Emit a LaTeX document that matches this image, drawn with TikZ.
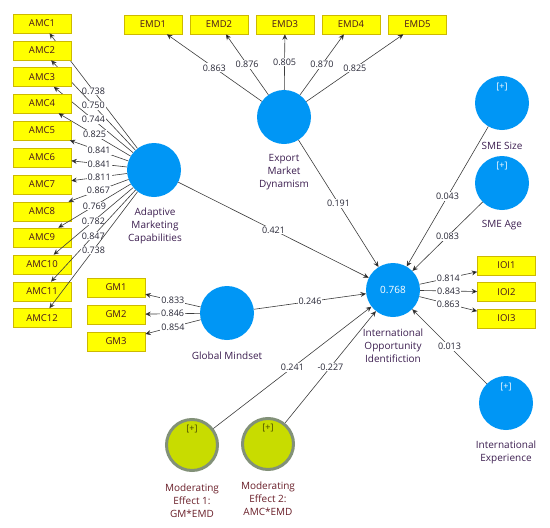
\documentclass[tikz,border=0pt]{standalone}
\usepackage{fontspec}
\setmainfont{Open Sans}
\usetikzlibrary{arrows.meta}
\definecolor{lvblue}{RGB}{0,150,245}
\definecolor{boxyellow}{RGB}{255,255,0}
\definecolor{boxedge}{RGB}{205,185,0}
\definecolor{boxtext}{RGB}{70,20,30}
\definecolor{lvtext}{RGB}{60,30,80}
\definecolor{modtext}{RGB}{105,30,40}
\definecolor{coeftext}{RGB}{40,40,55}
\definecolor{linegray}{RGB}{60,60,60}
\definecolor{modfill}{RGB}{200,220,0}
\definecolor{modedge}{RGB}{130,145,120}
\definecolor{plusdark}{RGB}{70,70,0}
\begin{document}
\begin{tikzpicture}[x=1pt,y=-1pt,
  ind/.style={draw=boxedge, line width=0.6pt, fill=boxyellow, minimum width=58pt, minimum height=19pt, inner sep=0pt, font=\fontsize{9.5}{11}\selectfont, text=boxtext},
  lv/.style={circle, fill=lvblue, minimum size=54pt, inner sep=0pt},
  modlv/.style={circle, fill=modfill, draw=modedge, line width=3pt, minimum size=51pt, inner sep=0pt},
  lvname/.style={align=center, font=\fontsize{10}{13}\selectfont, text=lvtext, inner sep=0pt},
  modname/.style={align=center, font=\fontsize{10}{13}\selectfont, text=modtext, inner sep=0pt},
  plus/.style={font=\fontsize{9}{11}\selectfont, text=white, inner sep=0pt},
  plusd/.style={font=\fontsize{9}{11}\selectfont, text=plusdark, inner sep=0pt},
  coef/.style={fill=white, inner sep=1pt, font=\fontsize{9}{11}\selectfont, text=coeftext},
  link/.style={draw=linegray, line width=0.6pt, -{Stealth[length=5.5pt,width=5pt,fill=black]}}]
\useasboundingbox (0,0) rectangle (550,528);

% latent variables
\node[lv] (amc) at (154,170) {};
\node[lvname] (amcl) at (155,226) {Adaptive\\Marketing\\Capabilities};
\node[lv] (emd) at (284,117) {};
\node[lvname] (emdl) at (284,172) {Export\\Market\\Dynamism};
\node[lv] (ioi) at (393,290) {};
\node[plus, font=\fontsize{10}{12}\selectfont] (ioir) at (393,290) {0.768};
\node[lvname] (ioil) at (393,346) {International\\Opportunity\\Identifiction};
\node[lv] (size) at (502,103) {};
\node[plus] (sizep) at (502,87) {[+]};
\node[lvname] (sizel) at (502,146) {SME Size};
\node[lv] (age) at (502,183) {};
\node[plus] (agep) at (502,166) {[+]};
\node[lvname] (agel) at (502,225) {SME Age};
\node[lv] (iex) at (506,403) {};
\node[plus] (iexp) at (506,387) {[+]};
\node[lvname] (iexl) at (506,452) {International\\Experience};
\node[lv] (gm) at (227,313) {};
\node[lvname] (gml) at (227,356) {Global Mindset};
\node[modlv] (me1) at (192,445) {};
\node[plusd] (me1p) at (192,429) {[+]};
\node[modname] (me1l) at (192,501) {Moderating\\Effect 1:\\GM*EMD};
\node[modlv] (me2) at (268,444) {};
\node[plusd] (me2p) at (268,428) {[+]};
\node[modname] (me2l) at (268,499) {Moderating\\Effect 2:\\AMC*EMD};

% AMC indicators
\foreach \i/\y/\c in {1/23.5/0.738, 2/50.5/0.750, 3/77/0.744, 4/103.5/0.825, 5/130.5/0.841, 6/157.5/0.841, 7/184.5/0.811, 8/211.5/0.867, 9/237.5/0.769, 10/264.5/0.782, 11/291.5/0.847, 12/318/0.738}{
  \node[ind] (amc\i) at (42,\y) {AMC\i};
  \draw[link] (amc) -- node[coef] {\c} (amc\i);
}

% EMD indicators
\foreach \i/\x/\c in {1/153/0.863, 2/219/0.876, 3/285/0.805, 4/351/0.870, 5/417.5/0.825}{
  \node[ind] (emd\i) at (\x,24.5) {EMD\i};
  \draw[link] (emd) -- node[coef] {\c} (emd\i);
}

% IOI indicators
\foreach \i/\y/\c in {1/265.5/0.814, 2/292/0.843, 3/318.5/0.863}{
  \node[ind] (ioi\i) at (506.5,\y) {IOI\i};
  \draw[link] (ioi) -- node[coef] {\c} (ioi\i);
}

% GM indicators
\foreach \i/\y/\c in {1/287.5/0.833, 2/314.5/0.846, 3/341.5/0.854}{
  \node[ind] (gm\i) at (116,\y) {GM\i};
  \draw[link] (gm) -- node[coef] {\c} (gm\i);
}

% structural paths
\draw[link] (amc) -- node[coef] {0.421} (ioi);
\draw[link] (emd) -- node[coef] {0.191} (ioi);
\draw[link] (gm) -- node[coef] {0.246} (ioi);
\draw[link] (size) -- node[coef] {0.043} (ioi);
\draw[link] (age) -- node[coef] {0.083} (ioi);
\draw[link] (me1) -- node[coef] {0.241} (ioi);
\draw[link] (me2) -- node[coef] {-0.227} (ioi);
\draw[link] (iex) -- node[coef] {0.013} (ioi);
\end{tikzpicture}
\end{document}
